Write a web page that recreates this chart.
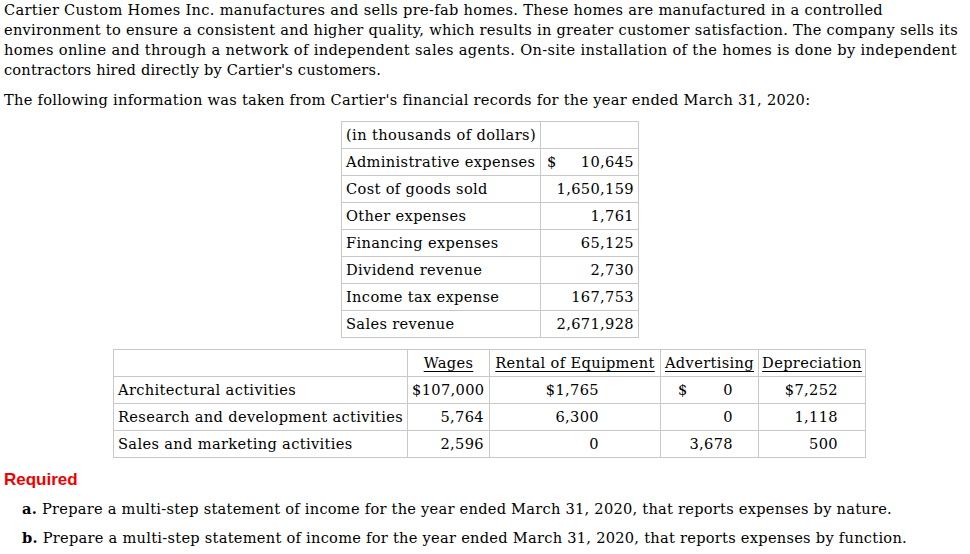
<!DOCTYPE html>
<html>
<head>
<meta charset="utf-8">
<script src="https://cdn.jsdelivr.net/npm/chart.js@4"></script>
<style>
  html,body{margin:0;padding:0;background:#fff;}
  body{width:970px;height:554px;position:relative;overflow:hidden;font-family:"DejaVu Serif",serif;font-size:14.6px;color:#000;}
  .ln{position:absolute;white-space:nowrap;line-height:20px;display:inline-block;}
  table{position:absolute;border-collapse:collapse;table-layout:fixed;}
  td{border:1px solid #c8c8c8;height:26px;padding:0 4px;white-space:nowrap;font-size:14.6px;line-height:16px;letter-spacing:0.35px;}
  .req{font-family:"Liberation Sans",Arial,sans-serif;font-weight:bold;color:#f20000;font-size:17px;}
  u{text-decoration:underline;text-underline-offset:3px;}
</style>
</head>
<body>
<div id="root"></div>
<script>
// ---- data ----
const introLines = [
  "Cartier Custom Homes Inc. manufactures and sells pre-fab homes. These homes are manufactured in a controlled",
  "environment to ensure a consistent and higher quality, which results in greater customer satisfaction. The company sells its",
  "homes online and through a network of independent sales agents. On-site installation of the homes is done by independent",
  "contractors hired directly by Cartier's customers."
];
const leadLine = "The following information was taken from Cartier's financial records for the year ended March 31, 2020:";
const table1Header = "(in thousands of dollars)";
const table1Items = ["Administrative expenses","Cost of goods sold","Other expenses","Financing expenses","Dividend revenue","Income tax expense","Sales revenue"];
const table1Values = ["10,645","1,650,159","1,761","65,125","2,730","167,753","2,671,928"];
const table2Columns = ["Wages","Rental of Equipment","Advertising","Depreciation"];
const table2Activities = ["Architectural activities","Research and development activities","Sales and marketing activities"];
const wagesValues = ["$107,000","5,764","2,596"];
const rentalValues = ["$1,765","6,300","0"];
const advertisingValues = ["0","0","3,678"];
const depreciationValues = ["$7,252","1,118","500"];
const requiredLabel = "Required";
const tasks = [
  ["a.", " Prepare a multi-step statement of income for the year ended March 31, 2020, that reports expenses by nature."],
  ["b.", " Prepare a multi-step statement of income for the year ended March 31, 2020, that reports expenses by function."]
];

// ---- layout ----
const root = document.getElementById('root');
function line(html, left, top, w){
  const d=document.createElement('div');
  d.className='ln'; d.innerHTML=html; d.style.left=left+'px'; d.style.top=top+'px';
  if(w) d.dataset.w=w;
  root.appendChild(d); return d;
}
const introW=[879,954,953,377];
introLines.forEach((t,i)=>line(t,4,i*20,introW[i]));
line(leadLine,4,90,806);

// table 1
const t1=document.createElement('table');
t1.style.left='341px'; t1.style.top='121px'; t1.style.width='297px';
let h='<colgroup><col style="width:199px"><col style="width:98px"></colgroup>';
h+='<tr><td><span data-w="190" style="display:inline-block">'+table1Header+'</span></td><td></td></tr>';
table1Items.forEach((it,i)=>{
  const dollar = i===0 ? '<span style="float:left;padding-left:2px">$</span>' : '';
  h+='<tr><td>'+it+'</td><td style="text-align:right;padding-right:4px">'+dollar+table1Values[i]+'</td></tr>';
});
t1.innerHTML=h; root.appendChild(t1);

// table 2
const t2=document.createElement('table');
t2.style.left='113px'; t2.style.top='349px'; t2.style.width='752px';
let h2='<colgroup><col style="width:294px"><col style="width:82px"><col style="width:171px"><col style="width:98px"><col style="width:107px"></colgroup>';
h2+='<tr><td></td>'+table2Columns.map(c=>'<td style="text-align:center;padding:0 2px"><u>'+c+'</u></td>').join('')+'</tr>';
table2Activities.forEach((a,i)=>{
  const adv = i===0 ? '<span style="float:left;padding-left:13px">$</span>'+advertisingValues[i] : advertisingValues[i];
  h2+='<tr><td>'+a+'</td>'+
    '<td style="text-align:right;padding-right:5px">'+wagesValues[i]+'</td>'+
    '<td style="text-align:right;padding-right:61px">'+rentalValues[i]+'</td>'+
    '<td style="text-align:right;padding-right:25px">'+adv+'</td>'+
    '<td style="text-align:right;padding-right:27px">'+depreciationValues[i]+'</td></tr>';
});
t2.innerHTML=h2; root.appendChild(t2);

// required
const r=line(requiredLabel,4,470); r.classList.add('req');
line('<b>'+tasks[0][0]+'</b>'+tasks[0][1],22,499,870);
line('<b>'+tasks[1][0]+'</b>'+tasks[1][1],22,528,885);

// fit text widths to the reference
document.querySelectorAll('[data-w]').forEach(el=>{
  el.style.letterSpacing='0px';
  const target=+el.dataset.w;
  const n=el.textContent.length;
  const w=el.getBoundingClientRect().width;
  el.style.letterSpacing=((target-w)/n)+'px';
});
</script>
</body>
</html>
